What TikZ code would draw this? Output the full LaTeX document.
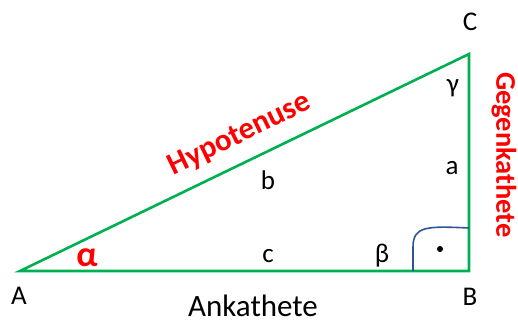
\documentclass[tikz,border=0pt]{standalone}
\usepackage{fontspec}
\setmainfont{Carlito}
\usepackage{tikz}
\usetikzlibrary{calc,positioning}
\definecolor{gruenLinie}{RGB}{0,176,80}
\definecolor{rotText}{RGB}{255,0,0}
\definecolor{blauWinkel}{RGB}{47,85,151}

\begin{document}
\begin{tikzpicture}[x=1pt,y=-1pt,
    lbl/.style={font=\fontsize{27}{27}\selectfont, inner sep=0pt},
    redlbl/.style={font=\fontsize{28.5}{28.5}\selectfont\bfseries, text=rotText, inner sep=0pt}]
  \useasboundingbox (0,0) rectangle (518,323);
  % Corners
  \coordinate (A) at (20,271);
  \coordinate (B) at (469,271);
  \coordinate (C) at (469,54);
  % Triangle
  \draw[gruenLinie, line width=2.6pt, line join=miter] (A) -- (B) -- (C) -- cycle;
  % Right angle mark
  \draw[blauWinkel, line width=1.6pt]
    ($(B)+(-56,0)$) -- ($(B)+(-56,-24)$)
    .. controls ($(B)+(-56,-45)$) and ($(B)+(-42,-45)$) .. ($(B)+(0,-43)$);
  \fill (440,249) circle (3pt);
  % Corner labels
  \node[lbl] (lblA) at (19,296) {A};
  \node[lbl] (lblB) at (470,297) {B};
  \node[lbl] (lblC) at (470,22) {C};
  % Angles
  \node[redlbl, font=\fontsize{36}{36}\selectfont\bfseries] (alpha) at (87,258) {α};
  \node[lbl] (beta) at (382,256) {β};
  \node[lbl] (gamma) at (453,88) {γ};
  % Sides
  \node[lbl] (sa) at (452,168) {a};
  \node[lbl] (sb) at (268,180) {b};
  \node[lbl] (sc) at (268,256) {c};
  \node[lbl, font=\fontsize{31}{31}\selectfont] (ank) at (253,306) {Ankathete};
  \node[redlbl, rotate=-90] (gegen) at (504,155) {Gegenkathete};
  \node[redlbl, font=\fontsize{31}{31}\selectfont\bfseries, rotate=25.8] (hypo) at (240,135) {Hypotenuse};
\end{tikzpicture}
\end{document}
